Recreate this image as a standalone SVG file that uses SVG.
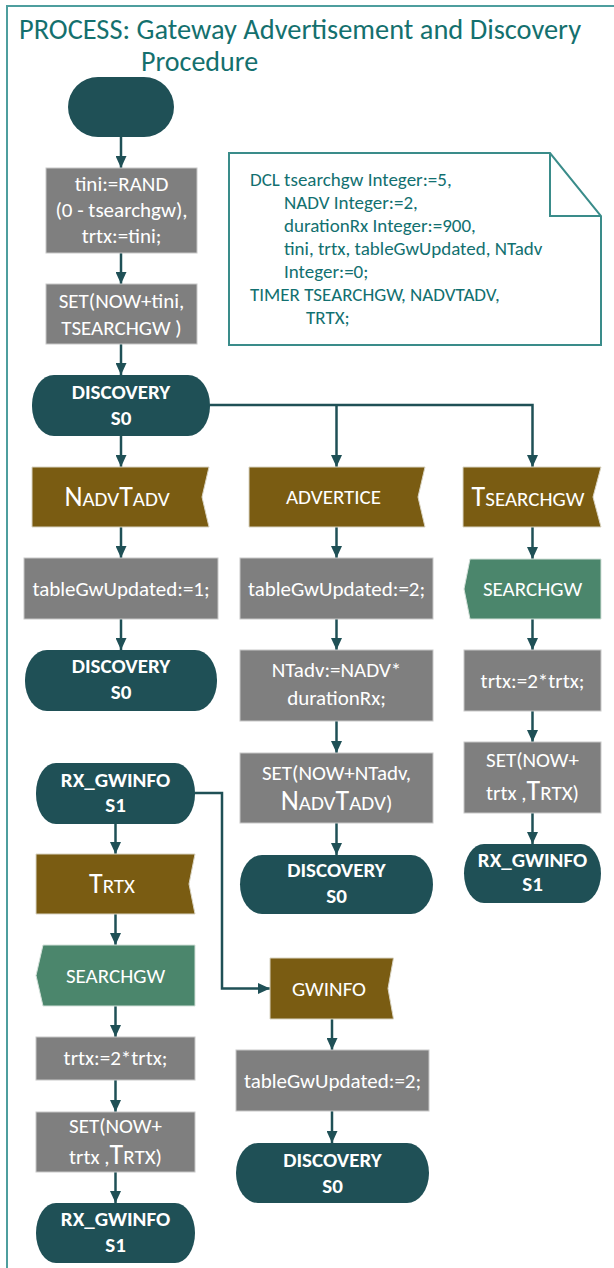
<svg xmlns="http://www.w3.org/2000/svg" width="614" height="1268" viewBox="0 0 614 1268">
  <defs>
    <marker id="arrow" markerUnits="userSpaceOnUse" markerWidth="13" markerHeight="11" refX="12" refY="5.5" orient="auto">
      <path d="M0,0 L12,5.5 L0,11 Z" fill="#1f5056"/>
    </marker>
    <style>
      .txt { font-family: Carlito, Lato, "Liberation Sans", sans-serif; }
      .w { fill: #ffffff; font-size: 21px; text-anchor: middle; }
      .bold { font-weight: bold; }
      .big { font-size: 28px; }
      .title { fill: #14706e; font-size: 28px; }
      .note { fill: #127070; font-size: 19px; }
      .term { fill: #1f5056; }
      .task { fill: #7f7f7f; stroke: #c8c8c8; stroke-width: 1; }
      .input { fill: #7a5c12; stroke: #d9d4c3; stroke-width: 1; }
      .output { fill: #4b866c; stroke: #d3e0d9; stroke-width: 1; }
      .conn { fill: none; stroke: #1f5056; stroke-width: 2.5; }
    </style>
  </defs>

  <rect width="614" height="1268" fill="#ffffff"/>

  <!-- process frame -->
  <path d="M7,1268 V6 H614" fill="none" stroke="#4e9e9e" stroke-width="2"/>

  <!-- process title -->
  <g id="title" class="txt title">
    <text x="19" y="39" textLength="562" lengthAdjust="spacingAndGlyphs">PROCESS: Gateway Advertisement and Discovery</text>
    <text x="141" y="71">Procedure</text>
  </g>

  <!-- declarations -->
  <g id="dcl">
    <path d="M229,153 H550 L601,216 V345 H229 Z" fill="#ffffff" stroke="#3a8c8a" stroke-width="2"/>
    <path d="M550,153 V216 H601" fill="none" stroke="#3a8c8a" stroke-width="2"/>
    <g class="txt note">
      <text x="250" y="186">DCL tsearchgw Integer:=5,</text>
      <text x="284" y="209">NADV Integer:=2,</text>
      <text x="284" y="232">durationRx Integer:=900,</text>
      <text x="284" y="255">tini, trtx, tableGwUpdated, NTadv</text>
      <text x="284" y="278">Integer:=0;</text>
      <text x="250" y="301">TIMER TSEARCHGW, NADVTADV,</text>
      <text x="306" y="324">TRTX;</text>
    </g>
  </g>

  <!-- connectors -->
  <g id="connectors" class="conn">
    <path d="M121,137 V168" marker-end="url(#arrow)"/>
    <path d="M121,253 V284" marker-end="url(#arrow)"/>
    <path d="M121,344 V375" marker-end="url(#arrow)"/>
    <path d="M121,436 V467" marker-end="url(#arrow)"/>
    <path d="M210,405 H532.5 V467" marker-end="url(#arrow)"/>
    <path d="M336.5,405 V467" marker-end="url(#arrow)"/>
    <path d="M121,527 V558" marker-end="url(#arrow)"/>
    <path d="M121,619 V650" marker-end="url(#arrow)"/>
    <path d="M336.5,527 V558" marker-end="url(#arrow)"/>
    <path d="M336.5,619 V650" marker-end="url(#arrow)"/>
    <path d="M336.5,721 V753" marker-end="url(#arrow)"/>
    <path d="M336.5,823 V855" marker-end="url(#arrow)"/>
    <path d="M532.5,527 V559" marker-end="url(#arrow)"/>
    <path d="M532.5,619 V650" marker-end="url(#arrow)"/>
    <path d="M532.5,711 V742" marker-end="url(#arrow)"/>
    <path d="M532.5,813 V844" marker-end="url(#arrow)"/>
    <path d="M115.5,824 V854" marker-end="url(#arrow)"/>
    <path d="M115.5,914 V945" marker-end="url(#arrow)"/>
    <path d="M115.5,1006 V1037" marker-end="url(#arrow)"/>
    <path d="M115.5,1080 V1112" marker-end="url(#arrow)"/>
    <path d="M115.5,1172 V1203" marker-end="url(#arrow)"/>
    <path d="M195,793 H222 V988.5 H270" marker-end="url(#arrow)"/>
    <path d="M332,1019 V1050" marker-end="url(#arrow)"/>
    <path d="M332,1111 V1143" marker-end="url(#arrow)"/>
  </g>

  <!-- start -->
  <g id="start">
    <rect class="term" x="68" y="77" width="106" height="60" rx="30" ry="30"/>
  </g>

  <g id="init" class="txt w">
    <rect class="task" x="46" y="168" width="151" height="85"/>
    <text x="121.5" y="191">tini:=RAND</text>
    <text x="121.5" y="217">(0 - tsearchgw),</text>
    <text x="121.5" y="243">trtx:=tini;</text>
  </g>

  <g id="set-tsearchgw" class="txt w">
    <rect class="task" x="46" y="284" width="151" height="60"/>
    <text x="121.5" y="308">SET(NOW+tini,</text>
    <text x="121.5" y="335">TSEARCHGW )</text>
  </g>

  <g id="state-discovery" class="txt w bold">
    <rect class="term" x="32" y="375" width="178" height="61" rx="22" ry="30"/>
    <text x="121" y="399">DISCOVERY</text>
    <text x="121" y="425">S0</text>
  </g>

  <!-- column 1 -->
  <g id="in-nadvtadv" class="txt w">
    <polygon class="input" points="32,467 209,467 202,497 209,527 32,527"/>
    <text x="117" y="506"><tspan class="big">N</tspan>ADV<tspan class="big">T</tspan>ADV</text>
  </g>

  <g id="table-upd-1" class="txt w">
    <rect class="task" x="24" y="558" width="194" height="61"/>
    <text x="121" y="596">tableGwUpdated:=1;</text>
  </g>

  <g id="next-discovery-1" class="txt w bold">
    <rect class="term" x="25" y="650" width="192" height="61" rx="22" ry="30"/>
    <text x="121" y="673">DISCOVERY</text>
    <text x="121" y="699">S0</text>
  </g>

  <!-- column 2 -->
  <g id="in-advertice" class="txt w">
    <polygon class="input" points="249,467 425,467 418,497 425,527 249,527"/>
    <text x="333.5" y="504">ADVERTICE</text>
  </g>

  <g id="table-upd-2" class="txt w">
    <rect class="task" x="240" y="558" width="193" height="61"/>
    <text x="336.5" y="596">tableGwUpdated:=2;</text>
  </g>

  <g id="ntadv" class="txt w">
    <rect class="task" x="240" y="650" width="193" height="71"/>
    <text x="336.5" y="677">NTadv:=NADV*</text>
    <text x="336.5" y="705">durationRx;</text>
  </g>

  <g id="set-nadvtadv" class="txt w">
    <rect class="task" x="240" y="753" width="193" height="70"/>
    <text x="336.5" y="780">SET(NOW+NTadv,</text>
    <text x="336.5" y="810"><tspan class="big">N</tspan>ADV<tspan class="big">T</tspan>ADV)</text>
  </g>

  <g id="next-discovery-2" class="txt w bold">
    <rect class="term" x="240" y="855" width="193" height="59" rx="22" ry="29.5"/>
    <text x="336.5" y="877">DISCOVERY</text>
    <text x="336.5" y="903">S0</text>
  </g>

  <!-- column 3 -->
  <g id="in-tsearchgw" class="txt w">
    <polygon class="input" points="463,467 601,467 593,497 601,527 463,527"/>
    <text x="528" y="506"><tspan class="big">T</tspan>SEARCHGW</text>
  </g>

  <g id="out-searchgw-1" class="txt w">
    <polygon class="output" points="470,559 601,559 601,619 470,619 464,589"/>
    <text x="532.5" y="596">SEARCHGW</text>
  </g>

  <g id="trtx-double-1" class="txt w">
    <rect class="task" x="464" y="650" width="137" height="61"/>
    <text x="532.5" y="688">trtx:=2*trtx;</text>
  </g>

  <g id="set-trtx-1" class="txt w">
    <rect class="task" x="464" y="742" width="137" height="71"/>
    <text x="532.5" y="767">SET(NOW+</text>
    <text x="532.5" y="800">trtx ,<tspan class="big">T</tspan>RTX)</text>
  </g>

  <g id="next-rx-gwinfo-1" class="txt w bold">
    <rect class="term" x="464" y="844" width="137" height="59" rx="20" ry="29.5"/>
    <text x="532.5" y="867">RX_GWINFO</text>
    <text x="532.5" y="891">S1</text>
  </g>

  <!-- state RX_GWINFO -->
  <g id="state-rx-gwinfo" class="txt w bold">
    <rect class="term" x="36" y="763" width="159" height="61" rx="20" ry="30"/>
    <text x="115.5" y="787">RX_GWINFO</text>
    <text x="115.5" y="812">S1</text>
  </g>

  <g id="in-trtx" class="txt w">
    <polygon class="input" points="36,854 195,854 189,884 195,914 36,914"/>
    <text x="112" y="893"><tspan class="big">T</tspan>RTX</text>
  </g>

  <g id="out-searchgw-2" class="txt w">
    <polygon class="output" points="43,945 195,945 195,1006 43,1006 36,975.5"/>
    <text x="115.5" y="983">SEARCHGW</text>
  </g>

  <g id="trtx-double-2" class="txt w">
    <rect class="task" x="36" y="1037" width="159" height="43"/>
    <text x="115.5" y="1065">trtx:=2*trtx;</text>
  </g>

  <g id="set-trtx-2" class="txt w">
    <rect class="task" x="36" y="1112" width="159" height="60"/>
    <text x="115.5" y="1133">SET(NOW+</text>
    <text x="115.5" y="1164">trtx ,<tspan class="big">T</tspan>RTX)</text>
  </g>

  <g id="next-rx-gwinfo-2" class="txt w bold">
    <rect class="term" x="36" y="1203" width="159" height="60" rx="20" ry="30"/>
    <text x="115.5" y="1226">RX_GWINFO</text>
    <text x="115.5" y="1252">S1</text>
  </g>

  <g id="in-gwinfo" class="txt w">
    <polygon class="input" points="270,958 393.5,958 388,988.5 393.5,1019 270,1019"/>
    <text x="329" y="996">GWINFO</text>
  </g>

  <g id="table-upd-3" class="txt w">
    <rect class="task" x="236" y="1050" width="193" height="61"/>
    <text x="332.5" y="1088">tableGwUpdated:=2;</text>
  </g>

  <g id="next-discovery-3" class="txt w bold">
    <rect class="term" x="236" y="1143" width="193" height="60" rx="22" ry="30"/>
    <text x="332.5" y="1167">DISCOVERY</text>
    <text x="332.5" y="1193">S0</text>
  </g>
</svg>
